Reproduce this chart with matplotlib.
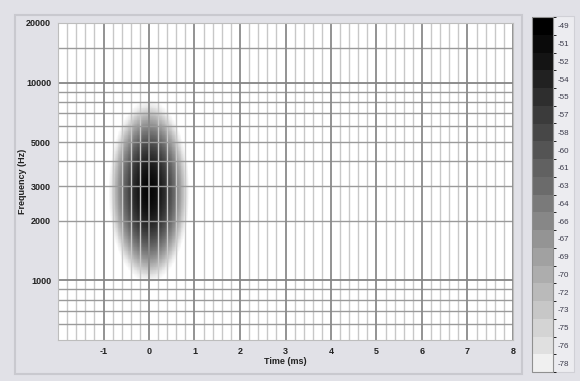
import numpy as np
import matplotlib
matplotlib.use("Agg")
import matplotlib.pyplot as plt
from matplotlib.colors import ListedColormap, LinearSegmentedColormap, BoundaryNorm, Normalize
from matplotlib.patches import Rectangle

plt.rcParams['font.family'] = ['Liberation Sans', 'DejaVu Sans']

# ---- data ----
x_ticks = [-1, 0, 1, 2, 3, 4, 5, 6, 7, 8]
y_ticks = [1000, 2000, 3000, 5000, 10000, 20000]
y_major_grid = [1000, 10000]
y_minor_grid = [600, 700, 800, 900, 2000, 3000, 4000, 5000, 6000, 7000, 8000, 9000, 15000]
cbar_labels = [-49, -51, -52, -54, -55, -57, -58, -60, -61, -63,
               -64, -66, -67, -69, -70, -72, -73, -75, -76, -78]
cbar_grays = [0.00, 0.04, 0.08, 0.13, 0.18, 0.23, 0.28, 0.33, 0.38, 0.42,
              0.48, 0.53, 0.58, 0.63, 0.68, 0.73, 0.78, 0.83, 0.88, 0.94]

# spectrogram of a gaussian pulse (parameters)
peak_db = -49.0
floor_db = -78.0
pulse_time_ms = 0.0
pulse_freq_hz = 2820.0
time_halfwidth_ms = 0.85
logf_halfwidth_dec = 0.44

t = np.linspace(-2, 8, 600)
f = np.logspace(np.log10(500), np.log10(20000), 400)
T, F = np.meshgrid(t, f)
r2 = ((T - pulse_time_ms) / time_halfwidth_ms) ** 2 + \
     ((np.log10(F) - np.log10(pulse_freq_hz)) / logf_halfwidth_dec) ** 2
Z = peak_db - (peak_db - floor_db) * r2

# ---- figure ----
fig = plt.figure(figsize=(5.8, 3.81), dpi=100, facecolor='#e1e1e7')
W, H = 580, 381

def fr(x0, y0, x1, y1):
    return [x0 / W, 1 - y1 / H, (x1 - x0) / W, (y1 - y0) / H]

# panel frames
fig.patches.append(Rectangle((15 / W, 1 - 374 / H), (522 - 15) / W, (374 - 15) / H,
                             transform=fig.transFigure, fill=False,
                             edgecolor='#c9c9cf', lw=1.5, zorder=-5))
fig.patches.append(Rectangle((553 / W, 1 - 372 / H), (574 - 553) / W, (372 - 16) / H,
                             transform=fig.transFigure, facecolor='#ececf0',
                             edgecolor='#d0d0d6', lw=0.8, zorder=-5))

ax = fig.add_axes(fr(58, 23, 513, 340))
step = (peak_db - floor_db) / (len(cbar_labels) - 1)
vmax = peak_db + step / 2
img_vmin = floor_db - 3.0
cmap = LinearSegmentedColormap.from_list('g', [(1, 1, 1), (0.9, 0.9, 0.9), (0, 0, 0)],
                                         N=512)
cmap = LinearSegmentedColormap.from_list(
    'g', [(0.0, (1, 1, 1)), (0.12, (0.92, 0.92, 0.92)), (1.0, (0, 0, 0))], N=512)
cmap.set_under('white')
ax.pcolormesh(T, F, Z, cmap=cmap, norm=Normalize(vmin=img_vmin, vmax=vmax),
              shading='auto', zorder=0, rasterized=True)
ax.set_yscale('log')
ax.set_xlim(-2, 8)
ax.set_ylim(500, 20000)

# grid
for xv in np.arange(-2, 8.001, 0.2):
    if abs(xv - round(xv)) < 1e-6:
        ax.axvline(xv, color='#8a8a8a', lw=1.3, zorder=2)
    else:
        ax.axvline(xv, color='#c8c8c8', lw=1.0, zorder=1)
for yv in y_minor_grid:
    ax.axhline(yv, color='#9a9a9a', lw=1.0, zorder=1.5)
for yv in y_major_grid:
    ax.axhline(yv, color='#858585', lw=1.3, zorder=2)

ax.set_xticks(x_ticks)
ax.set_xticklabels([str(v) for v in x_ticks])
ax.set_yticks(y_ticks)
ax.set_yticklabels([str(v) for v in y_ticks])
ax.yaxis.set_minor_locator(matplotlib.ticker.NullLocator())
ax.tick_params(length=0, labelsize=6.5, colors='#222222', pad=5)
for lab in ax.get_xticklabels() + ax.get_yticklabels():
    lab.set_fontweight('bold')
ax.set_xlabel('Time (ms)', fontsize=6.5, fontweight='bold', labelpad=1, color='#222222')
ax.set_ylabel('Frequency (Hz)', fontsize=6.5, fontweight='bold', labelpad=-1, color='#222222')
for s in ax.spines.values():
    s.set_color('#bdbdbd')
    s.set_linewidth(0.8)
ax.set_facecolor('white')

# colorbar
cb_vmin = floor_db - step / 2
cax = fig.add_axes(fr(532, 17, 553, 372))
ccmap = ListedColormap([(g, g, g) for g in cbar_grays[::-1]])
bounds = np.linspace(cb_vmin, vmax, len(cbar_labels) + 1)
norm = BoundaryNorm(bounds, ccmap.N)
sm = matplotlib.cm.ScalarMappable(norm=norm, cmap=ccmap)
cb = fig.colorbar(sm, cax=cax, boundaries=bounds)
centers = [peak_db - i * step for i in range(len(cbar_labels))]
cb.set_ticks(centers)
cb.set_ticklabels([str(v) for v in cbar_labels])
cb.ax.tick_params(length=0, labelsize=5.8, colors='#3a3a4a', pad=3)
cb.outline.set_edgecolor('#909090')
cb.outline.set_linewidth(0.8)

fig.savefig('out.png', dpi=100, facecolor=fig.get_facecolor())
